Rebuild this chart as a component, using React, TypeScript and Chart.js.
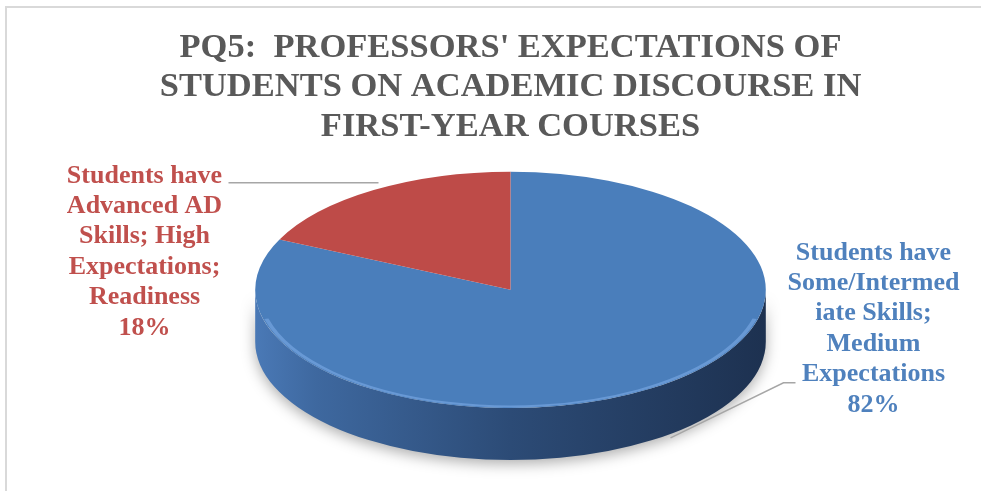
import { useEffect, useRef } from "react";
import { Chart, registerables } from "chart.js";

Chart.register(...registerables);

// ---- data ----
const titleLines = [
  "PQ5:  PROFESSORS' EXPECTATIONS OF",
  "STUDENTS ON ACADEMIC DISCOURSE IN",
  "FIRST-YEAR COURSES",
];
const categories = [
  "Students have Some/Intermediate Skills; Medium Expectations",
  "Students have Advanced AD Skills; High Expectations; Readiness",
];
const values = [82, 18];
const labelLines = [
  ["Students have", "Some/Intermed", "iate Skills;", "Medium", "Expectations"],
  ["Students have", "Advanced AD", "Skills; High", "Expectations;", "Readiness"],
];
const sliceColors = ["#4A7EBB", "#BE4B48"];
const labelColors = ["#4F81BD", "#C0504D"];

const FONT = "'Times New Roman', 'Liberation Serif', serif";
const STRETCH_X = 255 / 118; // ellipse horizontal stretch of the tilted pie
const DEPTH = 52; // thickness of the 3D side

function sideRanges(s: number, e: number): [number, number][] {
  const out: [number, number][] = [];
  const T = Math.PI * 2;
  for (let k = -1; k <= 1; k++) {
    const a = Math.max(s, k * T);
    const b = Math.min(e, Math.PI + k * T);
    if (b > a) out.push([a, b]);
  }
  return out;
}

const pie3d = {
  id: "pie3d",
  beforeDraw(chart: any) {
    const ctx = chart.ctx;
    ctx.save();
    ctx.fillStyle = "#ffffff";
    ctx.fillRect(0, 0, chart.width, chart.height);
    ctx.strokeStyle = "#D9D9D9";
    ctx.lineWidth = 2;
    ctx.beginPath();
    ctx.moveTo(6, chart.height);
    ctx.lineTo(6, 7);
    ctx.lineTo(chart.width, 7);
    ctx.stroke();
    ctx.restore();
  },
  beforeDatasetsDraw(chart: any) {
    const ctx = chart.ctx;
    const arcs = chart.getDatasetMeta(0).data;
    if (!arcs.length) return;
    const { x: cx, y: cy, outerRadius: r } = arcs[0].getProps(["x", "y", "outerRadius"], true);
    ctx.save();
    ctx.translate(cx, cy);
    ctx.scale(STRETCH_X, 1);
    ctx.translate(-cx, -cy);
    arcs.forEach((arc: any, i: number) => {
      const { startAngle, endAngle } = arc.getProps(["startAngle", "endAngle"], true);
      sideRanges(startAngle, endAngle).forEach(([a, b]) => {
        const g = ctx.createLinearGradient(cx - r, 0, cx + r, 0);
        if (i === 0) {
          g.addColorStop(0, "#4A79B6");
          g.addColorStop(0.12, "#3E689F");
          g.addColorStop(0.5, "#2C4B76");
          g.addColorStop(1, "#1D3150");
        } else {
          g.addColorStop(0, "#A8413E");
          g.addColorStop(1, "#6A2826");
        }
        ctx.save();
        ctx.shadowColor = "rgba(0,0,0,0.32)";
        ctx.shadowBlur = 14;
        ctx.shadowOffsetY = 4;
        ctx.beginPath();
        ctx.arc(cx, cy, r, a, b);
        ctx.arc(cx, cy + DEPTH, r, b, a, true);
        ctx.closePath();
        ctx.fillStyle = g;
        ctx.fill();
        ctx.restore();
      });
    });
  },
  afterDatasetsDraw(chart: any) {
    const ctx = chart.ctx;
    const arcs = chart.getDatasetMeta(0).data;
    if (!arcs.length) return;
    const { x: cx, y: cy, outerRadius: r } = arcs[0].getProps(["x", "y", "outerRadius"], true);
    // soft rim highlight along the front edge of the top face
    ctx.save();
    ctx.strokeStyle = "rgba(130,175,235,0.55)";
    ctx.lineWidth = 2;
    ctx.beginPath();
    ctx.arc(cx, cy, r - 1.5, 0.08 * Math.PI, 0.92 * Math.PI);
    ctx.stroke();
    ctx.restore();
    ctx.restore(); // matching save in beforeDatasetsDraw
  },
  afterDraw(chart: any) {
    const ctx = chart.ctx;
    const arcs = chart.getDatasetMeta(0).data;
    if (!arcs.length) return;
    const { x: cx, y: cy } = arcs[0].getProps(["x", "y"], true);
    const total = values.reduce((a, b) => a + b, 0);
    const anchors = [
      { x: cx + 363, y: cy - 37 },
      { x: cx - 366, y: cy - 114 },
    ];
    ctx.save();
    ctx.font = `bold 26px ${FONT}`;
    ctx.textAlign = "center";
    ctx.textBaseline = "middle";
    values.forEach((v, i) => {
      const lines = [...labelLines[i], `${Math.round((v / total) * 100)}%`];
      ctx.fillStyle = labelColors[i];
      lines.forEach((t, j) => ctx.fillText(t, anchors[i].x, anchors[i].y + j * 30.4));
    });
    // leader lines
    ctx.strokeStyle = "#A6A6A6";
    ctx.lineWidth = 1.5;
    ctx.beginPath();
    ctx.moveTo(cx - 282, cy - 107);
    ctx.lineTo(cx - 132, cy - 107);
    ctx.moveTo(cx + 285, cy + 93);
    ctx.lineTo(cx + 273, cy + 93);
    ctx.lineTo(cx + 160, cy + 148);
    ctx.stroke();
    ctx.restore();
  },
};

export default function App() {
  const ref = useRef<HTMLCanvasElement>(null);
  useEffect(() => {
    document.body.style.margin = "0";
    if (!ref.current) return;
    const chart = new Chart(ref.current, {
      type: "pie",
      data: {
        labels: categories,
        datasets: [
          {
            data: values,
            backgroundColor: sliceColors,
            borderWidth: 0,
            clip: false,
          } as any,
        ],
      },
      options: {
        responsive: false,
        animation: false,
        events: [],
        layout: { padding: { left: 40, right: 0, top: 0, bottom: 83 } },
        plugins: {
          legend: { display: false },
          tooltip: { enabled: false },
          title: {
            display: true,
            text: titleLines,
            color: "#595959",
            font: { family: FONT, size: 34.5, weight: "bold", lineHeight: 1.15 },
            padding: { top: 28, bottom: 24.7 },
          },
        },
      },
      plugins: [pie3d],
    });
    return () => chart.destroy();
  }, []);
  return <canvas ref={ref} width={981} height={491} style={{ display: "block" }} />;
}
